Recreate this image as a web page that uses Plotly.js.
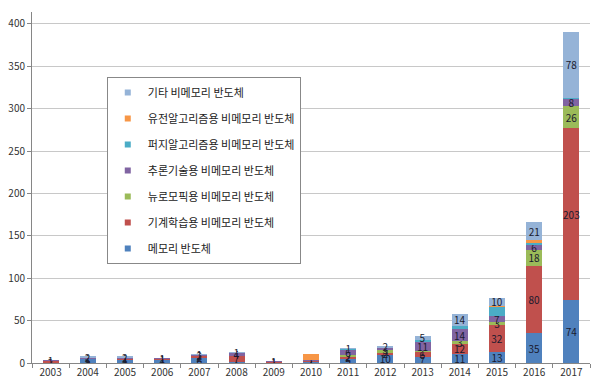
<!DOCTYPE html>
<html><head><meta charset="utf-8">
<script src="https://cdn.plot.ly/plotly-3.0.1.min.js"></script>
<style>body{margin:0;background:#fff}#c{width:600px;height:391px}</style>
</head><body><div id="c"></div>
<script>
const years = ['2003','2004','2005','2006','2007','2008','2009','2010','2011','2012','2013','2014','2015','2016','2017'];
const memory    = [0,5,4,4,6,1,0,1,5,10,7,11,13,35,74];
const ml        = [2,0,1,1,2,7,1,1,2,2,6,12,32,80,203];
const neuro     = [0,0,0,0,0,0,0,0,2,3,1,3,3,18,26];
const inference = [1,1,1,1,2,4,1,1,6,3,11,14,7,6,8];
const fuzzy     = [0,0,0,0,0,0,0,0,1,0,2,4,11,3,1];
const genetic   = [0,0,0,0,0,0,0,8,1,0,0,0,1,3,1];
const other     = [0,2,2,0,1,1,0,0,1,2,5,14,10,21,78];

const names = ['메모리 반도체','기계학습용 비메모리 반도체','뉴로모픽용 비메모리 반도체','추론기술용 비메모리 반도체','퍼지알고리즘용 비메모리 반도체','유전알고리즘용 비메모리 반도체','기타 비메모리 반도체'];
const series = [memory, ml, neuro, inference, fuzzy, genetic, other];
const colors = ['#4F81BD','#C0504D','#9BBB59','#8064A2','#4BACC6','#F79646','#95B3D7'];
const labelled = [true, true, true, true, false, false, true];

const bars = series.map((vals,i)=>({
  type:'bar', x:years, y:vals, name:names[i], showlegend:false,
  marker:{color:colors[i], line:{width:0}},
  text: vals.map(v=> (labelled[i] && v>0) ? String(v) : ''),
  textposition:'inside', insidetextanchor:'middle', textangle:0,
  textfont:{size:10, color:'#1a1a2e', family:'Noto Sans CJK KR'},
  hoverinfo:'none'
}));
const legendItems = series.map((vals,i)=>({
  type:'scatter', mode:'markers', x:[null], y:[null], name:names[i],
  legendgroup:'g'+i, legendrank:10-i,
  marker:{symbol:'square', size:6, color:colors[i]}
}));

const layout = {
  barmode:'stack', bargap:0.57,
  width:600, height:391,
  margin:{l:32, r:10, t:12, b:28},
  paper_bgcolor:'#fff', plot_bgcolor:'#fff',
  font:{family:'Noto Sans CJK KR', size:10, color:'#333'},
  uniformtext:{minsize:10, mode:'show'},
  xaxis:{type:'category', showline:true, linecolor:'#868686', linewidth:1,
    ticks:'outside', tickson:'boundaries', ticklen:4, tickcolor:'#868686',
    tickfont:{size:10, color:'#333'}, showgrid:false},
  yaxis:{range:[0,414], dtick:50, showline:true, linecolor:'#868686', linewidth:1,
    ticks:'outside', ticklen:4, tickcolor:'#868686',
    gridcolor:'#C8C8C8', gridwidth:1, zeroline:false,
    tickfont:{size:10, color:'#333'}},
  showlegend:true,
  legend:{x:0.134, y:0.815, xanchor:'left', yanchor:'top', traceorder:'grouped',
    tracegroupgap:7, bordercolor:'#888', borderwidth:1, bgcolor:'#fff',
    font:{size:11, color:'#222', family:'Noto Sans CJK KR'}, itemwidth:30}
};
Plotly.newPlot('c', bars.concat(legendItems), layout, {staticPlot:true, displayModeBar:false});
</script></body></html>
